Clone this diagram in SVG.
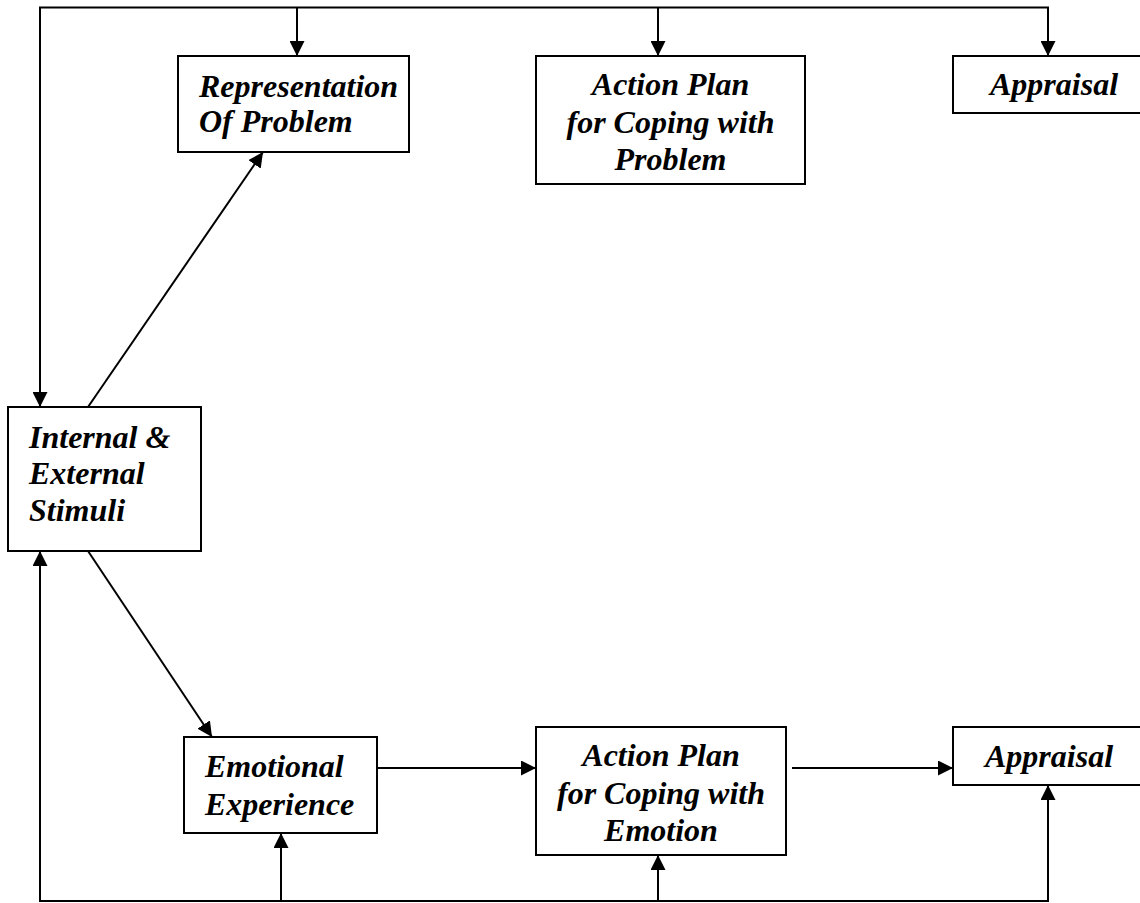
<svg xmlns="http://www.w3.org/2000/svg" width="1140" height="903" viewBox="0 0 1140 903">
<defs>
<marker id="ah" markerWidth="15" markerHeight="15" refX="15" refY="7.5" orient="auto" markerUnits="userSpaceOnUse">
<path d="M0,0 L15,7.5 L0,15 Z" fill="#000"/>
</marker>
<style>
.box{fill:#fff;stroke:#000;stroke-width:2}
.t{font-family:"Liberation Serif","Times New Roman",serif;font-weight:bold;font-style:italic;font-size:32px;fill:#000}
.c{text-anchor:middle}
.ln{fill:none;stroke:#000;stroke-width:2}
</style>
</defs>
<rect width="1140" height="903" fill="#fff"/>
<g id="connectors">
<polyline class="ln" points="40,407 40,7.5 1048,7.5 1048,56" marker-end="url(#ah)"/>
<line class="ln" x1="40" y1="7.5" x2="40" y2="407" marker-end="url(#ah)"/>
<line class="ln" x1="297" y1="7.5" x2="297" y2="56" marker-end="url(#ah)"/>
<line class="ln" x1="658" y1="7.5" x2="658" y2="56" marker-end="url(#ah)"/>
<line class="ln" x1="88" y1="407" x2="263" y2="152" marker-end="url(#ah)"/>
<line class="ln" x1="88" y1="551" x2="212" y2="737" marker-end="url(#ah)"/>
<line class="ln" x1="377" y1="768" x2="536" y2="768" marker-end="url(#ah)"/>
<line class="ln" x1="792" y1="768" x2="953" y2="768" marker-end="url(#ah)"/>
<polyline class="ln" points="1048,785 1048,901 40,901 40,551" marker-end="url(#ah)"/>
<line class="ln" x1="1048" y1="901" x2="1048" y2="785" marker-end="url(#ah)"/>
<line class="ln" x1="281" y1="901" x2="281" y2="833" marker-end="url(#ah)"/>
<line class="ln" x1="658" y1="901" x2="658" y2="855" marker-end="url(#ah)"/>
</g>
<g id="representation">
<rect class="box" x="178" y="56" width="231" height="96"/>
<text class="t" x="199" y="97">Representation</text>
<text class="t" x="199" y="132">Of Problem</text>
</g>
<g id="action-problem">
<rect class="box" x="536" y="56" width="269" height="128"/>
<text class="t c" x="670.5" y="95">Action Plan</text>
<text class="t c" x="670.5" y="133">for Coping with</text>
<text class="t c" x="670.5" y="170">Problem</text>
</g>
<g id="appraisal-top">
<rect class="box" x="953" y="56" width="190" height="57"/>
<text class="t c" x="1054" y="95">Appraisal</text>
</g>
<g id="stimuli">
<rect class="box" x="8" y="407" width="193" height="144"/>
<text class="t" x="29" y="448">Internal &amp;</text>
<text class="t" x="29" y="484">External</text>
<text class="t" x="29" y="521">Stimuli</text>
</g>
<g id="emotional">
<rect class="box" x="184" y="737" width="193" height="96"/>
<text class="t" x="205" y="777">Emotional</text>
<text class="t" x="205" y="815">Experience</text>
</g>
<g id="action-emotion">
<rect class="box" x="536" y="727" width="250" height="128"/>
<text class="t c" x="661" y="766">Action Plan</text>
<text class="t c" x="661" y="804">for Coping with</text>
<text class="t c" x="661" y="841">Emotion</text>
</g>
<g id="appraisal-bottom">
<rect class="box" x="953" y="727" width="190" height="58"/>
<text class="t c" x="1049" y="767">Appraisal</text>
</g>
</svg>
